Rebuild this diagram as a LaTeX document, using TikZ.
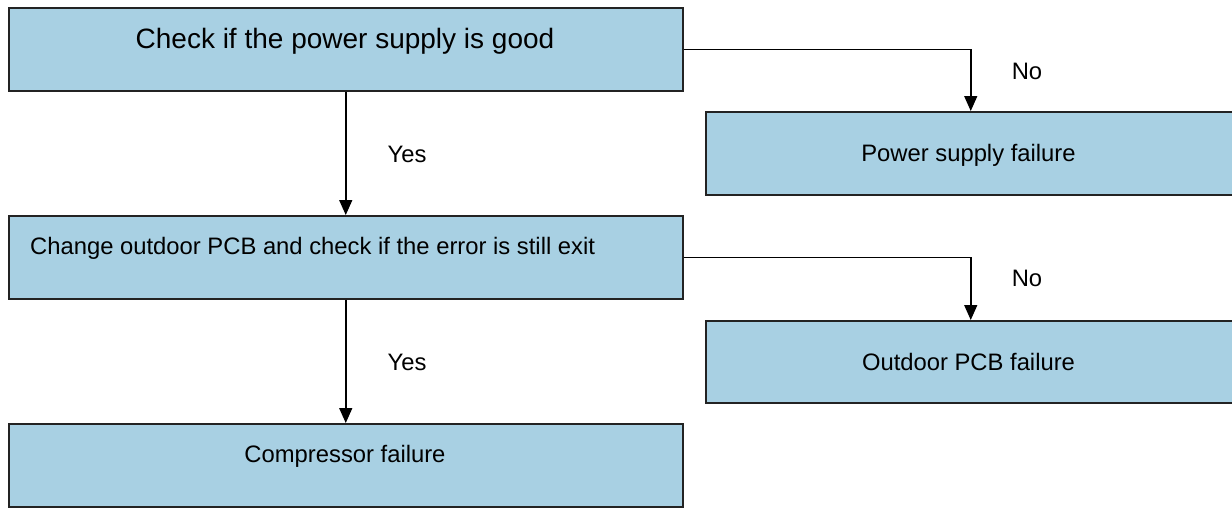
\documentclass[tikz,border=0pt]{standalone}
\usepackage{fontspec}
\setmainfont{Liberation Sans}
\usetikzlibrary{arrows.meta}
\definecolor{boxfill}{RGB}{168,208,227}
\definecolor{boxline}{RGB}{35,35,35}
\tikzset{
  boxnode/.style={draw=boxline, line width=1.5pt, fill=boxfill, anchor=north west, inner sep=0pt},
  txt/.style={inner sep=0pt, font=\fontsize{23.8}{28}\selectfont},
  bigtxt/.style={inner sep=0pt, font=\fontsize{28}{32}\selectfont},
  conn/.style={draw=black, line width=1.5pt, -{Triangle[length=15pt,width=13pt]}},
}
\begin{document}
\begin{tikzpicture}[x=1pt,y=-1pt]
\useasboundingbox (0,0) rectangle (1232,507);
% boxes
\node[boxnode, minimum width=674pt, minimum height=83pt] (b1) at (8,7) {};
\node[boxnode, minimum width=530pt, minimum height=83pt] (b2) at (705,111) {};
\node[boxnode, minimum width=674pt, minimum height=83pt] (b3) at (8,215) {};
\node[boxnode, minimum width=530pt, minimum height=82pt] (b4) at (705,320) {};
\node[boxnode, minimum width=674pt, minimum height=83pt] (b5) at (8,423) {};
% texts
\node[bigtxt] (t1) at (345,41) {Check if the power supply is good};
\node[txt] (t2) at (968.5,155) {Power supply failure};
\node[txt, anchor=west] (t3) at (30,248) {Change outdoor PCB and check if the error is still exit};
\node[txt] (t4) at (968.5,362) {Outdoor PCB failure};
\node[txt] (t5) at (345,456) {Compressor failure};
% connectors
\draw[conn] (b1.south) -- (b3.north);
\draw[conn] (b3.south) -- (b5.north);
\draw[conn] (b1.east) -| (b2.north);
\draw[conn] (b3.east) -| (b4.north);
% labels
\node[txt] (y1) at (407,154) {Yes};
\node[txt] (y2) at (407,362) {Yes};
\node[txt] (n1) at (1027,71) {No};
\node[txt] (n2) at (1027,278) {No};
\end{tikzpicture}
\end{document}
